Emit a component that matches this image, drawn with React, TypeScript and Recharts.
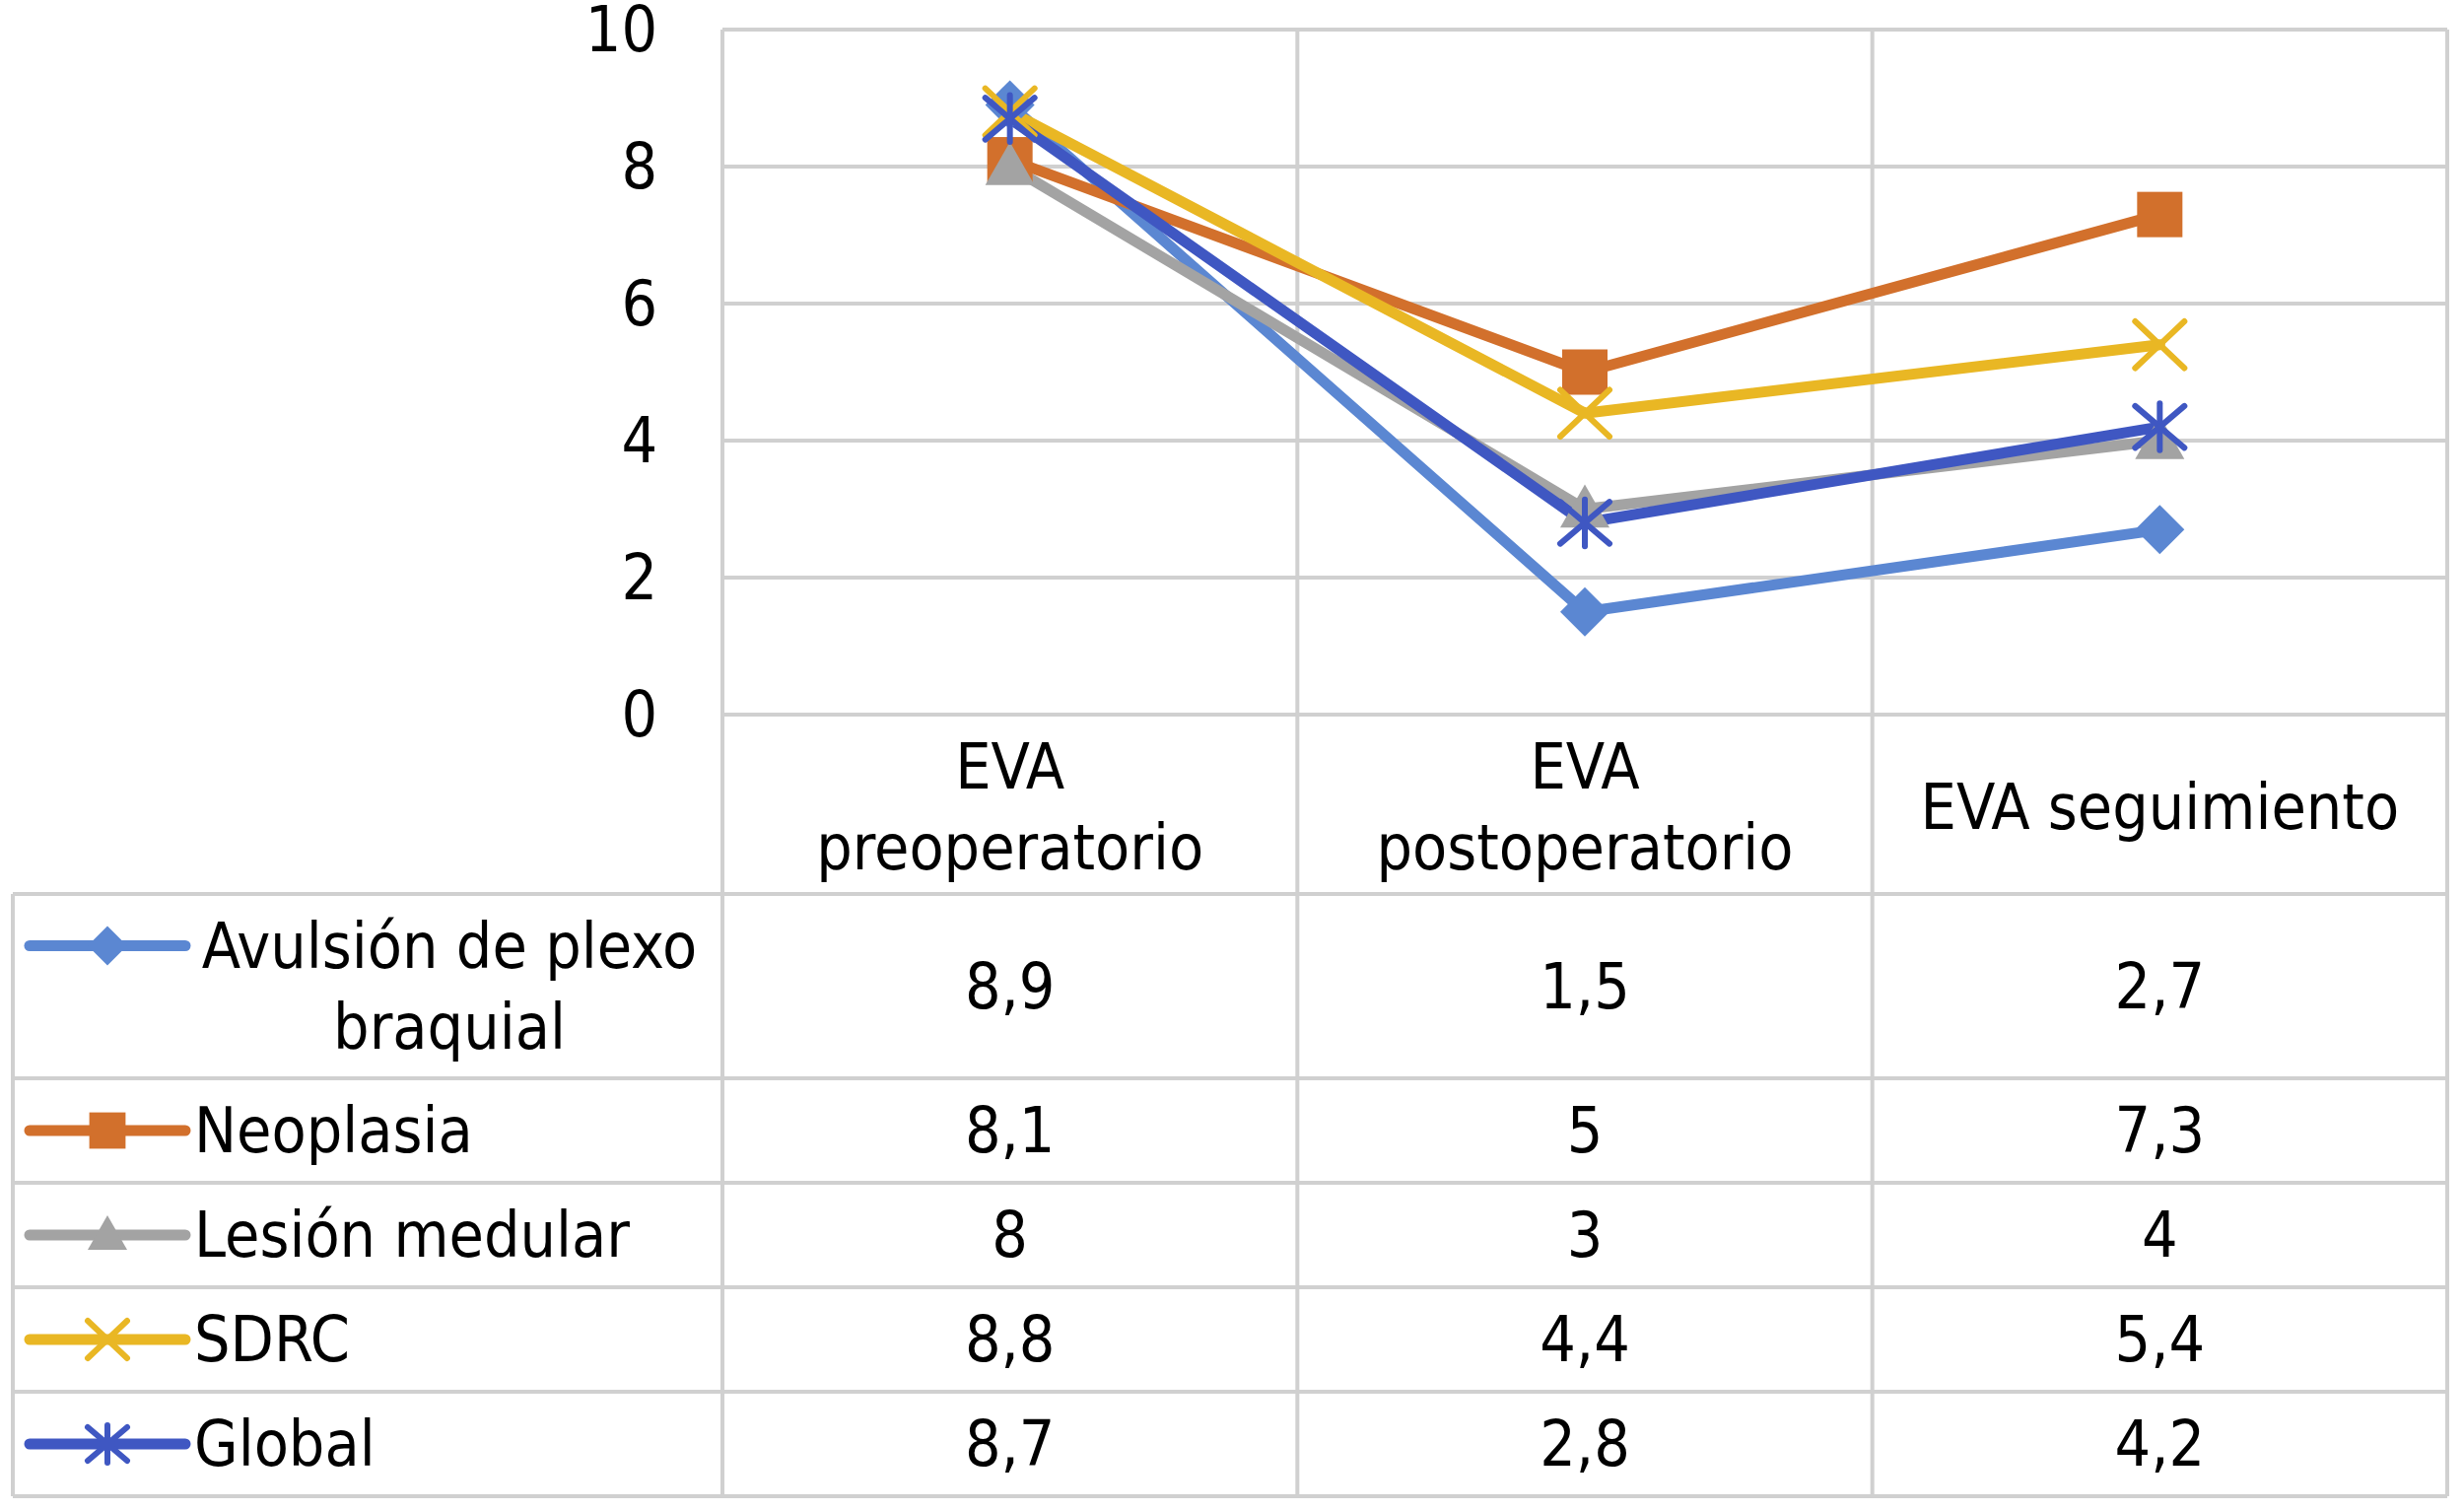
import { ComposedChart, Line, XAxis, YAxis, CartesianGrid } from 'recharts';

const categories = ['EVA preoperatorio', 'EVA postoperatorio', 'EVA seguimiento'];
const avulsion = [8.9, 1.5, 2.7];
const neoplasia = [8.1, 5, 7.3];
const lesion = [8, 3, 4];
const sdrc = [8.8, 4.4, 5.4];
const global = [8.7, 2.8, 4.2];
const yTicks = [0, 2, 4, 6, 8, 10];

const series = [
  { key: 'avulsion', name: 'Avulsión de plexo braquial', values: avulsion, color: '#5B87D2', shape: 'diamond' },
  { key: 'neoplasia', name: 'Neoplasia', values: neoplasia, color: '#D2702C', shape: 'square' },
  { key: 'lesion', name: 'Lesión medular', values: lesion, color: '#A3A3A3', shape: 'triangle' },
  { key: 'sdrc', name: 'SDRC', values: sdrc, color: '#E9B724', shape: 'x' },
  { key: 'global', name: 'Global', values: global, color: '#3F57C2', shape: 'star' },
];

const data = categories.map((category, i) => {
  const row: Record<string, any> = { category };
  series.forEach(s => { row[s.key] = s.values[i]; });
  return row;
});

// layout (px)
const W = 2500;
const H = 1533;
const PLOT_LEFT = 733;
const PLOT_RIGHT = 2483;
const PLOT_TOP = 30;
const PLOT_BOTTOM = 725;
const TABLE_LEFT = 13;
const TABLE_TOP = 907;
const FONT = "'DejaVu Sans Condensed', 'DejaVu Sans', sans-serif";
const FS = 64;
const LINE_GAP = 82;
const GRID = '#D0D0D0';
const COL_W = (PLOT_RIGHT - PLOT_LEFT) / categories.length;

function wrap(text: string, max: number) {
  const words = text.split(' ');
  const lines: string[] = [];
  let cur = '';
  words.forEach(w => {
    const next = cur ? cur + ' ' + w : w;
    if (next.length > max && cur) {
      lines.push(cur);
      cur = w;
    } else {
      cur = next;
    }
  });
  if (cur) lines.push(cur);
  return lines;
}

const fmt = (v: number) => String(v).replace('.', ',');

function Marker({ shape, cx, cy, color, size }: any) {
  const h = size / 2;
  switch (shape) {
    case 'diamond':
      return <polygon points={`${cx},${cy - h} ${cx + h},${cy} ${cx},${cy + h} ${cx - h},${cy}`} fill={color} />;
    case 'square':
      return <rect x={cx - h * 0.92} y={cy - h * 0.92} width={size * 0.92} height={size * 0.92} fill={color} />;
    case 'triangle':
      return <polygon points={`${cx},${cy - h} ${cx + h},${cy + h * 0.75} ${cx - h},${cy + h * 0.75}`} fill={color} />;
    case 'x':
      return (
        <g stroke={color} strokeWidth={6} strokeLinecap="round">
          <line x1={cx - h} y1={cy - h * 0.95} x2={cx + h} y2={cy + h * 0.95} />
          <line x1={cx - h} y1={cy + h * 0.95} x2={cx + h} y2={cy - h * 0.95} />
        </g>
      );
    case 'star':
      return (
        <g stroke={color} strokeWidth={6} strokeLinecap="round">
          <line x1={cx - h} y1={cy - h * 0.85} x2={cx + h} y2={cy + h * 0.85} />
          <line x1={cx - h} y1={cy + h * 0.85} x2={cx + h} y2={cy - h * 0.85} />
          <line x1={cx} y1={cy - h * 0.95} x2={cx} y2={cy + h * 0.95} />
        </g>
      );
    default:
      return null;
  }
}

const YTick = ({ x, y, payload }: any) => (
  <text x={x} y={y} textAnchor="end" dominantBaseline="central" fontSize={FS} fontFamily={FONT} fill="#000">
    {payload.value}
  </text>
);

const XTick = ({ x, y, payload }: any) => {
  const lines = wrap(payload.value, 15);
  const mid = y + 94;
  return (
    <text textAnchor="middle" fontSize={FS} fontFamily={FONT} fill="#000">
      {lines.map((l, i) => (
        <tspan key={i} x={x} y={mid + (i - (lines.length - 1) / 2) * LINE_GAP} dominantBaseline="central">
          {l}
        </tspan>
      ))}
    </text>
  );
};

function DataTable() {
  const colEdges = categories.map((_, i) => PLOT_LEFT + i * COL_W).concat(PLOT_RIGHT);
  const rows = series.map(s => ({ ...s, lines: wrap(s.name, 17) }));
  const heights = rows.map(r => (r.lines.length > 1 ? 187 : 106));
  const rowEdges = [TABLE_TOP];
  heights.forEach(h => rowEdges.push(rowEdges[rowEdges.length - 1] + h));
  const bottom = rowEdges[rowEdges.length - 1];
  const keyX1 = 30;
  const keyX2 = 188;
  const textLeft = 197;
  const textMid = 456;

  return (
    <svg width={W} height={H} style={{ position: 'absolute', left: 0, top: 0, pointerEvents: 'none' }}>
      {colEdges.map((x, i) => (
        <line key={'c' + i} x1={x} y1={PLOT_BOTTOM} x2={x} y2={bottom} stroke={GRID} strokeWidth={4} />
      ))}
      <line x1={TABLE_LEFT} y1={TABLE_TOP} x2={TABLE_LEFT} y2={bottom} stroke={GRID} strokeWidth={4} />
      {rowEdges.map((y, i) => (
        <line key={'r' + i} x1={TABLE_LEFT} y1={y} x2={PLOT_RIGHT} y2={y} stroke={GRID} strokeWidth={4} />
      ))}
      {rows.map((r, ri) => {
        const top = rowEdges[ri];
        const cy = top + heights[ri] / 2;
        const multi = r.lines.length > 1;
        const firstY = cy - ((r.lines.length - 1) / 2) * LINE_GAP;
        return (
          <g key={r.key}>
            <line x1={keyX1} y1={firstY} x2={keyX2} y2={firstY} stroke={r.color} strokeWidth={11} strokeLinecap="round" />
            <Marker shape={r.shape} cx={(keyX1 + keyX2) / 2} cy={firstY} color={r.color} size={40} />
            <text
              fontSize={FS}
              fontFamily={FONT}
              fill="#000"
              textAnchor={multi ? 'middle' : 'start'}
            >
              {r.lines.map((l, i) => (
                <tspan key={i} x={multi ? textMid : textLeft} y={firstY + i * LINE_GAP} dominantBaseline="central">
                  {l}
                </tspan>
              ))}
            </text>
            {r.values.map((v, ci) => (
              <text
                key={ci}
                x={(colEdges[ci] + colEdges[ci + 1]) / 2}
                y={cy}
                textAnchor="middle"
                dominantBaseline="central"
                fontSize={FS}
                fontFamily={FONT}
                fill="#000"
              >
                {fmt(v)}
              </text>
            ))}
          </g>
        );
      })}
    </svg>
  );
}

export default function App() {
  const chartH = 910;
  return (
    <div style={{ position: 'absolute', left: 0, top: 0, width: W, height: H, background: '#fff', fontFamily: FONT }}>
      <ComposedChart
        width={W}
        height={chartH}
        data={data}
        margin={{ top: PLOT_TOP, right: W - PLOT_RIGHT, left: 0, bottom: 0 }}
      >
        <CartesianGrid
          stroke={GRID}
          strokeWidth={4}
          verticalCoordinatesGenerator={({ offset }: any) =>
            categories.map((_, i) => offset.left + (i * offset.width) / categories.length).concat(offset.left + offset.width)
          }
        />
        <XAxis
          dataKey="category"
          axisLine={false}
          tickLine={false}
          tickSize={0}
          tickMargin={0}
          padding={{ left: COL_W / 2, right: COL_W / 2 }}
          height={chartH - PLOT_BOTTOM}
          tick={<XTick />}
          interval={0}
        />
        <YAxis
          domain={[0, 10]}
          ticks={yTicks}
          interval={0}
          axisLine={false}
          tickLine={false}
          tickSize={0}
          tickMargin={66}
          width={PLOT_LEFT}
          tick={<YTick />}
        />
        {series.map(s => (
          <Line
            key={s.key}
            type="linear"
            dataKey={s.key}
            name={s.name}
            stroke={s.color}
            strokeWidth={11}
            strokeLinejoin="round"
            strokeLinecap="round"
            isAnimationActive={false}
            activeDot={false}
            dot={(p: any) => (
              <Marker key={`${s.key}-${p.index}`} shape={s.shape} cx={p.cx} cy={p.cy} color={s.color} size={50} />
            )}
          />
        ))}
      </ComposedChart>
      <DataTable />
    </div>
  );
}
